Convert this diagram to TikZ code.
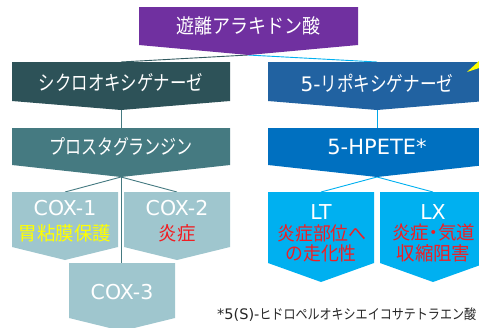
\documentclass[tikz,border=0pt]{standalone}
\usepackage{fontspec}
\usepackage{graphicx}
\setmainfont{DejaVu Sans}
\newfontfamily\jp{Noto Sans CJK JP}
\newfontfamily\lat{DejaVu Sans}
\definecolor{cpurple}{HTML}{7030A0}
\definecolor{cdteal}{HTML}{2D5258}
\definecolor{cmteal}{HTML}{457A81}
\definecolor{clteal}{HTML}{9FC6CE}
\definecolor{cdblue}{HTML}{2162A1}
\definecolor{cmblue}{HTML}{0070C0}
\definecolor{clblue}{HTML}{00B0F0}
\definecolor{cred}{HTML}{F01E23}
\definecolor{cyel}{HTML}{FFFF00}
\definecolor{ctext}{HTML}{262626}
\newcommand\chevbox[7]{%
  \fill[#7] (#2,#4) -- (#3,#4) -- (#3,#5) -- ({(#2+#3)/2},#6) -- (#2,#5) -- cycle;
  \coordinate (#1-t) at ({(#2+#3)/2},#4);
  \coordinate (#1-b) at ({(#2+#3)/2},#6);}
\newcommand\jpsq[3]{\scalebox{#1}[1]{\jp\fontsize{#2}{#2}\selectfont #3}}
\tikzset{
  lbl/.style={text=white, inner sep=0pt, anchor=center},
  conn/.style={line width=0.9pt},
}
\begin{document}
\begin{tikzpicture}[x=1pt,y=-1pt]
\useasboundingbox (0,0) rectangle (479,327);
\clip (0,0) rectangle (479,327);
% coordinates for connectors
\coordinate (aa-b) at (248,55);
\coordinate (cyc-t) at (121,62);
\coordinate (lox-t) at (377,62);
\coordinate (cyc-b) at (121,110);
\coordinate (lox-b) at (377,110);
\coordinate (pg-t) at (121,128);
\coordinate (hp-t) at (377,128);
\coordinate (pg-b) at (121,177);
\coordinate (hp-b) at (377,177);
\coordinate (c1-t) at (65,192);
\coordinate (c2-t) at (177,192);
\coordinate (c3-t) at (121,263);
\coordinate (lt-t) at (321,192);
\coordinate (lx-t) at (433,192);
% connectors
\draw[conn, cdteal!80!cmteal] (aa-b) -- (cyc-t);
\draw[conn, clblue] (aa-b) -- (lox-t);
\draw[conn, cmteal] (cyc-b) -- (pg-t);
\draw[conn, clblue!85!cmblue] (lox-b) -- (hp-t);
\draw[conn, cmteal] (pg-b) -- (c1-t);
\draw[conn, cmteal] (pg-b) -- (c2-t);
\draw[conn, cmteal] (pg-b) -- (c3-t);
\draw[conn, clblue] (hp-b) -- (lt-t);
\draw[conn, clblue] (hp-b) -- (lx-t);
% boxes
\chevbox{aa}{139}{358}{7}{45}{55}{cpurple}
\chevbox{cyc}{12}{230}{62}{101}{110}{cdteal}
\chevbox{lox}{268}{486}{62}{101}{110}{cdblue}
\chevbox{pg}{12}{230}{128}{165}{177}{cmteal}
\chevbox{hp}{268}{486}{128}{165}{177}{cmblue}
\chevbox{c1}{12}{118}{192}{247}{260}{clteal}
\chevbox{c2}{124}{230}{192}{247}{260}{clteal}
\chevbox{c3}{69}{175}{263}{318}{331}{clteal}
\chevbox{lt}{268}{374}{192}{263}{282}{clblue}
\chevbox{lx}{380}{486}{192}{263}{282}{clblue}
% yellow wedge
\fill[cyel] (467,72) -- (479,61) -- (479,68) -- cycle;
% labels
\node[lbl] (aa) at (248.5,26) {\jpsq{0.9}{20}{遊離アラキドン酸}};
\node[lbl] (cyc) at (121,83) {\jpsq{0.8}{20.5}{シクロオキシゲナーゼ}};
\node[lbl] (lox) at (377,83) {\lat\fontsize{20}{20}\selectfont 5-\jpsq{0.81}{20.5}{リポキシゲナーゼ}};
\node[lbl] (pg) at (121,147) {\jpsq{0.78}{20.5}{プロスタグランジン}};
\node[lbl] (hp) at (377,147) {\lat\fontsize{21}{22}\selectfont 5-HPETE*};
\node[lbl] (c1) at (65,208) {\lat\fontsize{20.5}{22}\selectfont COX-1};
\node[lbl, text=cyel] (c1d) at (65,233) {\jpsq{0.97}{19}{胃粘膜保護}};
\node[lbl] (c2) at (177,208) {\lat\fontsize{20.5}{22}\selectfont COX-2};
\node[lbl, text=cred] (c2d) at (177,233) {\jpsq{0.97}{19}{炎症}};
\node[lbl] (c3) at (122,292) {\lat\fontsize{20.5}{22}\selectfont COX-3};
\node[lbl] (lt) at (321,212) {\lat\fontsize{20.5}{22}\selectfont LT};
\node[lbl, text=cred] (ltd1) at (322,233) {\jpsq{0.95}{18.8}{炎症部位へ}};
\node[lbl, text=cred] (ltd2) at (321,253) {\jpsq{0.95}{18.8}{の走化性}};
\node[lbl] (lx) at (433,212) {\lat\fontsize{20.5}{22}\selectfont LX};
\node[lbl, text=cred] (lxd1) at (433.5,233) {\jp\fontsize{18.5}{20}\selectfont 炎症\makebox[9pt]{・}気道};
\node[lbl, text=cred] (lxd2) at (433.5,253) {\jpsq{0.97}{19}{収縮阻害}};
\node[anchor=west, inner sep=0pt, text=ctext] (fn) at (217,315)
  {\lat\fontsize{14.5}{16}\selectfont *5(S)-\jpsq{0.86}{14}{ヒドロペルオキシエイコサテトラエン酸}};
\end{tikzpicture}
\end{document}
